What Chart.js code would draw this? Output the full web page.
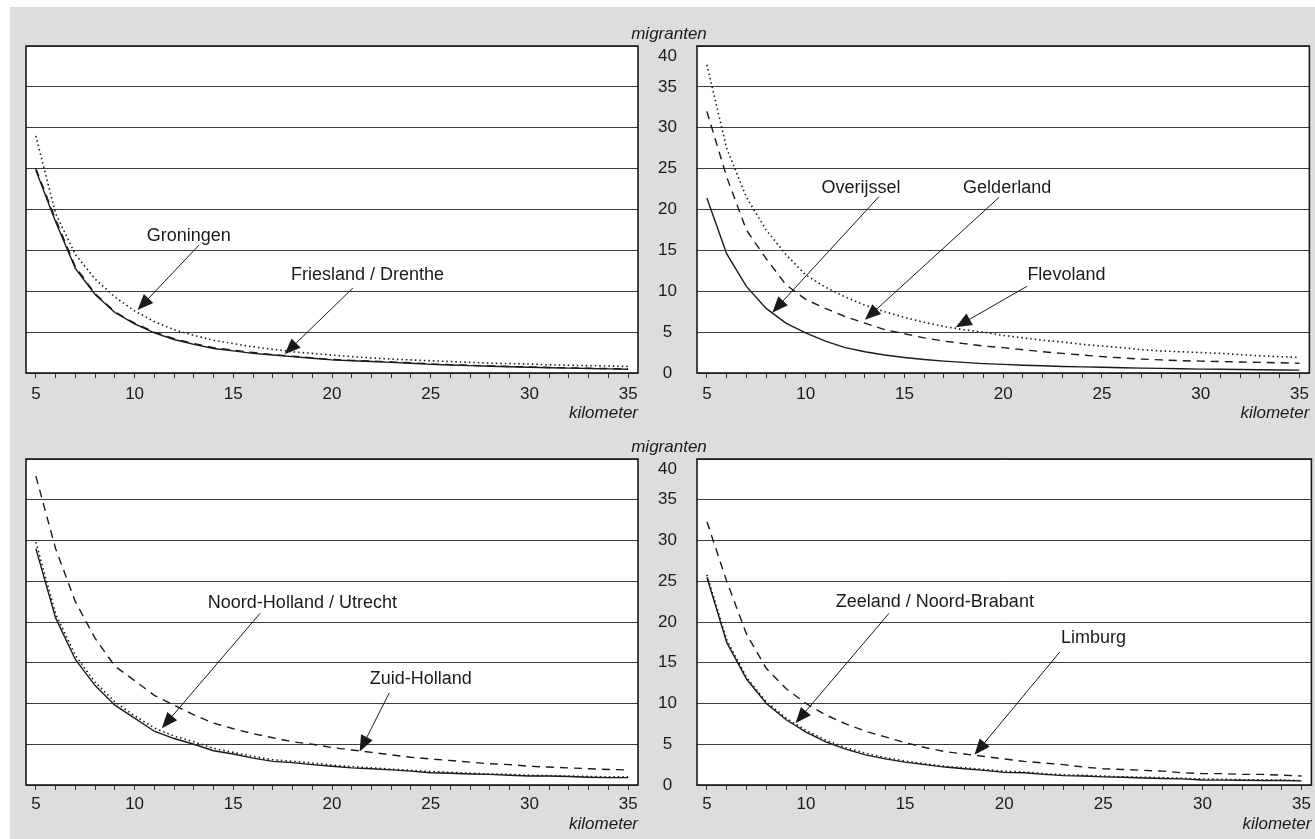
<!DOCTYPE html>
<html>
<head>
<meta charset="utf-8">
<script src="https://cdn.jsdelivr.net/npm/chart.js@4.4.1/dist/chart.umd.min.js"></script>
<style>
  html, body { margin: 0; padding: 0; background: #fff; }
  #stage { position: relative; width: 1315px; height: 839px; overflow: hidden; }
  #bg { position: absolute; left: 10px; top: 7px; right: 0; bottom: 0; background: #dcdddf; }
  canvas { position: absolute; left: 0; top: 0; }
</style>
</head>
<body>
<div id="stage">
  <div id="bg"></div>
  <canvas id="c-tl" width="1315" height="839"></canvas>
  <canvas id="c-tr" width="1315" height="839"></canvas>
  <canvas id="c-bl" width="1315" height="839"></canvas>
  <canvas id="c-br" width="1315" height="839"></canvas>
</div>
<script>
// afstand in km (x-as) en migranten (y-as)
const kmLabels = [5, 6, 7, 8, 9, 10, 11, 12, 13, 14, 15, 16, 17, 18, 19, 20,
  21, 22, 23, 24, 25, 26, 27, 28, 29, 30, 31, 32, 33, 34, 35];
const yMax = 40;
const yStep = 5;

// noord
const friesland = [24.8, 18.5, 12.8, 9.6, 7.4, 6.0, 4.9, 4.1, 3.5, 3.0, 2.7, 2.4, 2.2, 2.0, 1.8, 1.6,
  1.5, 1.4, 1.3, 1.2, 1.05, 0.97, 0.9, 0.82, 0.76, 0.7, 0.65, 0.6, 0.55, 0.5, 0.45];
const drenthe = [25.0, 18.8, 13.0, 9.7, 7.5, 6.1, 5.0, 4.2, 3.6, 3.1, 2.8, 2.5, 2.25, 2.05, 1.85, 1.65,
  1.55, 1.45, 1.35, 1.25, 1.12, 1.03, 0.95, 0.87, 0.8, 0.74, 0.68, 0.63, 0.58, 0.54, 0.5];
const groningen = [29.0, 19.5, 14.5, 11.5, 9.3, 7.6, 6.3, 5.3, 4.6, 4.0, 3.6, 3.2, 2.9, 2.6, 2.4, 2.2,
  2.0, 1.85, 1.7, 1.6, 1.5, 1.4, 1.3, 1.2, 1.15, 1.1, 1.0, 0.95, 0.9, 0.85, 0.8];

// oost
const overijssel = [21.4, 14.6, 10.6, 7.9, 6.1, 4.9, 3.9, 3.1, 2.6, 2.2, 1.9, 1.65, 1.45, 1.3, 1.15, 1.05,
  0.95, 0.88, 0.8, 0.75, 0.7, 0.65, 0.6, 0.56, 0.52, 0.48, 0.45, 0.42, 0.4, 0.37, 0.35];
const gelderland = [32.0, 24.0, 17.5, 14.0, 10.8, 9.0, 7.9, 6.9, 6.1, 5.3, 4.8, 4.3, 3.9, 3.6, 3.3, 3.1,
  2.85, 2.6, 2.4, 2.2, 2.0, 1.85, 1.7, 1.6, 1.5, 1.45, 1.4, 1.35, 1.3, 1.25, 1.2];
const flevoland = [37.7, 27.5, 21.5, 17.5, 14.5, 12.0, 10.5, 9.3, 8.3, 7.5, 6.8, 6.2, 5.7, 5.3, 5.0, 4.6,
  4.3, 4.0, 3.8, 3.5, 3.3, 3.1, 2.85, 2.7, 2.6, 2.5, 2.4, 2.25, 2.1, 2.0, 1.9];

// west
const noordHolland = [29.0, 20.5, 15.4, 12.2, 9.8, 8.2, 6.6, 5.7, 5.0, 4.2, 3.8, 3.3, 2.9, 2.75, 2.5, 2.3,
  2.1, 2.0, 1.85, 1.7, 1.5, 1.45, 1.35, 1.3, 1.2, 1.1, 1.1, 1.05, 0.95, 0.9, 0.9];
const utrecht = [29.8, 21.0, 15.9, 12.6, 10.2, 8.5, 7.0, 6.0, 5.3, 4.5, 4.0, 3.5, 3.1, 2.9, 2.7, 2.45,
  2.25, 2.1, 1.95, 1.8, 1.65, 1.55, 1.45, 1.35, 1.3, 1.2, 1.15, 1.1, 1.05, 1.0, 1.0];
const zuidHolland = [37.9, 29.0, 22.5, 18.0, 14.6, 12.8, 11.0, 9.8, 8.6, 7.6, 6.9, 6.3, 5.8, 5.3, 5.0, 4.6,
  4.3, 4.0, 3.7, 3.4, 3.2, 3.0, 2.8, 2.6, 2.5, 2.3, 2.2, 2.1, 2.0, 1.9, 1.85];

// zuid
const zeeland = [25.5, 17.5, 13.0, 10.0, 8.0, 6.5, 5.3, 4.4, 3.7, 3.2, 2.8, 2.5, 2.2, 2.0, 1.8, 1.55,
  1.5, 1.3, 1.15, 1.1, 1.0, 0.95, 0.85, 0.8, 0.75, 0.62, 0.6, 0.58, 0.55, 0.55, 0.5];
const noordBrabant = [25.8, 17.8, 13.2, 10.2, 8.2, 6.7, 5.5, 4.6, 3.9, 3.35, 2.95, 2.6, 2.3, 2.1, 1.9, 1.7,
  1.6, 1.4, 1.25, 1.2, 1.1, 1.0, 0.95, 0.9, 0.82, 0.75, 0.7, 0.65, 0.62, 0.6, 0.55];
const limburg = [32.3, 25.0, 18.5, 14.3, 11.8, 10.0, 8.6, 7.5, 6.6, 5.9, 5.2, 4.6, 4.1, 3.8, 3.5, 3.2,
  2.9, 2.7, 2.5, 2.2, 2.0, 1.9, 1.8, 1.7, 1.5, 1.4, 1.4, 1.3, 1.3, 1.2, 1.1];

// labels with arrow: [text, km, value, tail km, tail value, tip km, tip value]
const notesNorth = [
  ["Groningen", 12.74, 16.8, 13.27, 15.66, 10.15, 7.7],
  ["Friesland / Drenthe", 21.8, 12.0, 21.06, 10.4, 17.6, 2.3],
];
const notesEast = [
  ["Overijssel", 12.8, 22.6, 13.71, 21.57, 8.31, 7.38],
  ["Gelderland", 20.2, 22.6, 19.8, 21.5, 13.0, 6.5],
  ["Flevoland", 23.2, 12.0, 21.2, 10.6, 17.6, 5.6],
];
const notesWest = [
  ["Noord-Holland / Utrecht", 18.5, 22.3, 16.36, 21.07, 11.38, 6.96],
  ["Zuid-Holland", 24.5, 13.0, 22.9, 11.3, 21.4, 4.1],
];
const notesSouth = [
  ["Zeeland / Noord-Brabant", 16.5, 22.4, 14.19, 21.07, 9.47, 7.57],
  ["Limburg", 24.5, 18.0, 22.8, 16.3, 18.5, 3.7],
];

const INK = "#1a1a1a";
const FONT = '"Liberation Sans", Arial, Helvetica, sans-serif';
Chart.defaults.font.family = FONT;
Chart.defaults.font.size = 17;
Chart.defaults.color = INK;

const SOLID = [];
const DASHED = [8, 6];
const DOTTED = [1.5, 3];

function drawArrow(ctx, x1, y1, x2, y2) {
  const ang = Math.atan2(y2 - y1, x2 - x1);
  const len = 16, half = 6.5;
  const c = Math.cos(ang), s = Math.sin(ang);
  ctx.beginPath();
  ctx.moveTo(x1, y1);
  ctx.lineTo(x2 - c * len * 0.8, y2 - s * len * 0.8);
  ctx.stroke();
  ctx.beginPath();
  ctx.moveTo(x2, y2);
  ctx.lineTo(x2 - c * len + s * half, y2 - s * len - c * half);
  ctx.lineTo(x2 - c * len - s * half, y2 - s * len + c * half);
  ctx.closePath();
  ctx.fill();
}

function panelPlugin(notes, withYTitle) {
  return {
    id: "panel",
    beforeDraw(chart) {
      const { ctx, chartArea: a } = chart;
      ctx.save();
      ctx.fillStyle = "#ffffff";
      ctx.fillRect(a.left, a.top, a.right - a.left, a.bottom - a.top);
      ctx.restore();
    },
    afterDatasetsDraw(chart) {
      const { ctx, chartArea: a, scales } = chart;
      const px = (k) => scales.x.getPixelForValue(k - kmLabels[0]);
      const py = (v) => scales.y.getPixelForValue(v);
      ctx.save();
      ctx.strokeStyle = INK;
      ctx.lineWidth = 1.6;
      ctx.strokeRect(a.left, a.top, a.right - a.left, a.bottom - a.top);

      ctx.fillStyle = INK;
      ctx.lineWidth = 1;
      ctx.font = "18px " + FONT;
      ctx.textAlign = "center";
      ctx.textBaseline = "middle";
      notes.forEach(([text, tk, tv, ak, av, bk, bv]) => {
        ctx.fillText(text, px(tk), py(tv));
        drawArrow(ctx, px(ak), py(av), px(bk), py(bv));
      });

      if (withYTitle) {
        const y = scales.y;
        ctx.font = "italic 17px " + FONT;
        ctx.textBaseline = "alphabetic";
        ctx.fillText("migranten", (y.left + y.right) / 2 + 2, a.top - 7);
      }
      ctx.restore();
    },
  };
}

function buildPanel(canvasId, { series, notes, showY, padding, axisHeight, tickPad }) {
  const canvas = document.getElementById(canvasId);
  return new Chart(canvas, {
    type: "line",
    data: {
      labels: kmLabels,
      datasets: series.map(([label, data, dash]) => ({
        label,
        data,
        borderColor: INK,
        borderWidth: dash === DOTTED ? 1.6 : 1.4,
        borderDash: dash,
        pointRadius: 0,
        tension: 0,
        fill: false,
      })),
    },
    options: {
      responsive: false,
      animation: false,
      devicePixelRatio: 1,
      events: [],
      layout: { padding },
      plugins: {
        legend: { display: false },
        tooltip: { enabled: false },
      },
      scales: {
        x: {
          type: "category",
          offset: true,
          grid: { offset: false, drawOnChartArea: false, drawTicks: true, tickLength: 5, color: "#333", lineWidth: 1 },
          border: { display: false },
          ticks: {
            autoSkip: false,
            maxRotation: 0,
            padding: tickPad,
            callback: (v, i) => (kmLabels[i] % 5 === 0 ? String(kmLabels[i]) : ""),
          },
          title: { display: true, text: "kilometer", align: "end", padding: 0, color: INK, font: { style: "italic", size: 17 } },
          afterFit(s) { s.height = axisHeight; },
        },
        y: {
          min: 0,
          max: yMax,
          grid: { color: "#3c3c3c", lineWidth: 1, drawTicks: false },
          border: { display: false },
          ticks: {
            display: showY,
            autoSkip: false,
            stepSize: yStep,
            crossAlign: "center",
            padding: 20,
            callback: (v) => (v === yMax ? ["", String(v)] : String(v)),
          },
          afterFit(s) { s.width = showY ? 60 : 0; },
        },
      },
    },
    plugins: [panelPlugin(notes, showY)],
  });
}

buildPanel("c-tl", {
  series: [["Groningen", groningen, DOTTED], ["Drenthe", drenthe, DASHED], ["Friesland", friesland, SOLID]],
  notes: notesNorth, showY: false,
  padding: { left: 26, top: 46, right: 677, bottom: 416 }, axisHeight: 50, tickPad: 6,
});
buildPanel("c-tr", {
  series: [["Flevoland", flevoland, DOTTED], ["Gelderland", gelderland, DASHED], ["Overijssel", overijssel, SOLID]],
  notes: notesEast, showY: true,
  padding: { left: 637, top: 46, right: 3, bottom: 416 }, axisHeight: 50, tickPad: 6,
});
buildPanel("c-bl", {
  series: [["Utrecht", utrecht, DOTTED], ["Zuid-Holland", zuidHolland, DASHED], ["Noord-Holland", noordHolland, SOLID]],
  notes: notesWest, showY: false,
  padding: { left: 26, top: 459, right: 677, bottom: 5 }, axisHeight: 49, tickPad: 4,
});
buildPanel("c-br", {
  series: [["Noord-Brabant", noordBrabant, DOTTED], ["Limburg", limburg, DASHED], ["Zeeland", zeeland, SOLID]],
  notes: notesSouth, showY: true,
  padding: { left: 637, top: 459, right: 3, bottom: 5 }, axisHeight: 49, tickPad: 4,
});
</script>
</body>
</html>
